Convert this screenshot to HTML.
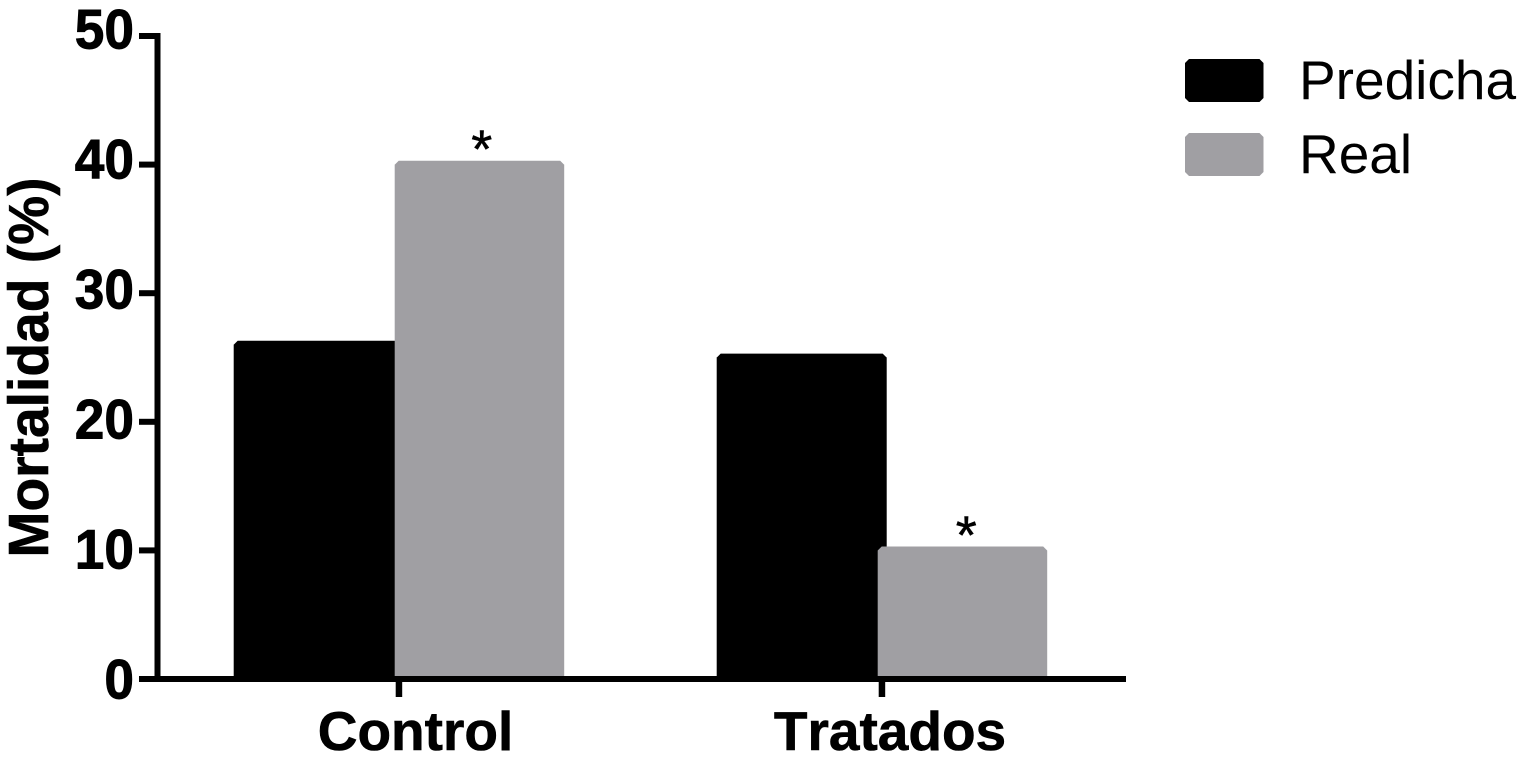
<!DOCTYPE html>
<html lang="es">
<head>
<meta charset="utf-8">
<title>Mortalidad</title>
<style>
html,body{margin:0;padding:0;background:#fff;width:1518px;height:778px;overflow:hidden}
svg{display:block}
text{font-family:"Liberation Sans",sans-serif;fill:#000}
</style>
</head>
<body>
<svg id="chart" width="1518" height="778" viewBox="0 0 1518 778" xmlns="http://www.w3.org/2000/svg"></svg>
<script>
const categories = ['Control', 'Tratados'];
const predicha = [26.3, 25.3];
const real = [40.3, 10.3];
const yTicks = [0, 10, 20, 30, 40, 50];
const significance = ['*', '*'];
const seriesNames = ['Predicha', 'Real'];
const yAxisTitle = 'Mortalidad (%)';

const NS = 'http://www.w3.org/2000/svg';
const svg = document.getElementById('chart');
const BLACK = '#000000';
const GRAY = '#a09fa3';

function yScale(v) { return 679 - v * (679 - 36) / 50; }
function yLabelBaseline(v) { return 698.5 - v * 13; }
function xCenter(i) { return 398.7 + i * 483; }
function xLabelCenter(i) { return 415.5 + i * 474.5; }

function make(tag, attrs, parent) {
  const el = document.createElementNS(NS, tag);
  for (const k in attrs) el.setAttribute(k, attrs[k]);
  (parent || svg).appendChild(el);
  return el;
}
function chamfer(x0, x1, y0, y1, c) {
  return [[x0, y1], [x0, y0 + c], [x0 + c, y0], [x1 - c, y0], [x1, y0 + c], [x1, y1]].map(p => p.join(',')).join(' ');
}
function chamferAll(x0, x1, y0, y1, c) {
  return [[x0, y1 - c], [x0, y0 + c], [x0 + c, y0], [x1 - c, y0], [x1, y0 + c], [x1, y1 - c], [x1 - c, y1], [x0 + c, y1]].map(p => p.join(',')).join(' ');
}

// Bars: the grey series overlaps the black one, so black is drawn first
categories.forEach((cat, i) => {
  const c = xCenter(i);
  const b = make('polygon', { points: chamfer(c - 165, c + 5, yScale(predicha[i]), 677, 4), fill: BLACK });
  
  
});
categories.forEach((cat, i) => {
  const c = xCenter(i);
  const b = make('polygon', { points: chamfer(c - 4, c + 165.5, yScale(real[i]), 676, 4), fill: GRAY });
  
  
  const s = make('text', { x: c + 83 + i * 1.5, y: yScale(real[i]) + 7, 'font-size': 54, 'text-anchor': 'middle', stroke: '#000', 'stroke-width': 0.5 });
  s.textContent = significance[i];
  
  
});

// Y axis
const yAxis = make('rect', { x: 154.5, y: 33, width: 6, height: 649, fill: BLACK });


yTicks.forEach(t => {
  const y = yScale(t);
  const m = make('rect', { x: 139, y: y - 3, width: 16, height: 6, fill: BLACK });
  
  
  const l = make('text', { x: 134, y: yLabelBaseline(t), 'font-size': 56, 'font-weight': 700, 'text-anchor': 'end', stroke: '#000', 'stroke-width': 0.9, textLength: String(t).length * 29.6, lengthAdjust: 'spacingAndGlyphs' });
  l.textContent = t;
  
  
});

// X axis
const xAxis = make('rect', { x: 139, y: 676, width: 987, height: 6, fill: BLACK });


categories.forEach((cat, i) => {
  const c = xCenter(i);
  const m = make('rect', { x: c - 3, y: 682, width: 6.5, height: 15, fill: BLACK });
  
  
  const l = make('text', { x: xLabelCenter(i), y: 750, 'font-size': 55, 'font-weight': 700, 'text-anchor': 'middle', stroke: '#000', 'stroke-width': 0.6, style: 'font-kerning:none' });
  l.textContent = cat;
  
  
});

// Y axis title
const title = make('text', { transform: 'translate(48,367.5) rotate(-90)', 'font-size': 57, 'font-weight': 700, 'text-anchor': 'middle', textLength: 380, lengthAdjust: 'spacingAndGlyphs', stroke: '#000', 'stroke-width': 0.6 });
title.textContent = yAxisTitle;



// Legend
const legendColors = [BLACK, GRAY];
seriesNames.forEach((name, i) => {
  const top = 59 + i * 74;
  const sw = make('polygon', { points: chamferAll(1185, 1263.5, top, top + 43, 4), fill: legendColors[i] });
  
  
  const l = make('text', { x: 1299, y: top + 40, 'font-size': 55 });
  l.textContent = name;
  
  
});
</script>
</body>
</html>
